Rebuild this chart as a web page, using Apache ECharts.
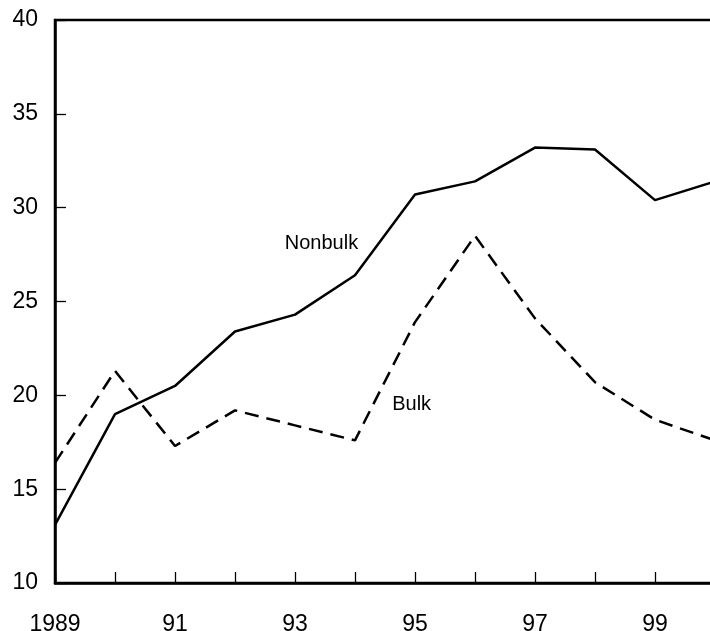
<!DOCTYPE html>
<html>
<head>
<meta charset="utf-8">
<script src="https://cdn.jsdelivr.net/npm/echarts@6/dist/echarts.min.js"></script>
<style>
    html, body { margin: 0; padding: 0; background: #fff; overflow: hidden; }
    #main { width: 710px; height: 631px; }
</style>
</head>
<body>
<div id="main"></div>
<script>
// values
var years = [1989, 1990, 1991, 1992, 1993, 1994, 1995, 1996, 1997, 1998, 1999, 2000];
var nonbulk = [13.1, 19.0, 20.5, 23.4, 24.3, 26.4, 30.7, 31.4, 33.2, 33.1, 30.4, 31.4];
var bulk = [16.4, 21.3, 17.3, 19.2, 18.4, 17.6, 23.9, 28.5, 24.1, 20.7, 18.7, 17.6];
var yTicks = [10, 15, 20, 25, 30, 35, 40];
var labelYears = [1989, 1991, 1993, 1995, 1997, 1999];

var font = 'Liberation Sans, Arial, sans-serif';

function pairs(vals) {
    return years.map(function (y, i) { return [y, vals[i]]; });
}

var myChart = echarts.init(document.getElementById('main'));
var option = {
    animation: false,
    backgroundColor: '#fff',
    grid: {
        left: 55, top: 20, width: 660, height: 563,
        outerBoundsMode: 'none',
        show: true, borderColor: '#000', borderWidth: 2.5
    },
    xAxis: {
        type: 'value',
        min: 1989, max: 2000, interval: 1,
        axisLine: { lineStyle: { color: '#000', width: 2.5 } },
        axisTick: { inside: true, length: 11, lineStyle: { color: '#000', width: 1.3 } },
        splitLine: { show: false },
        axisLabel: {
            margin: 30,
            fontSize: 23, color: '#000', fontFamily: font,
            formatter: function (v) {
                if (labelYears.indexOf(v) < 0) return '';
                return v === 1989 ? '1989' : String(v).slice(2);
            }
        }
    },
    yAxis: {
        type: 'value',
        min: yTicks[0], max: yTicks[yTicks.length - 1], interval: 5,
        axisLine: { show: true, lineStyle: { color: '#000', width: 2.5 } },
        axisTick: { show: true, inside: true, length: 11, lineStyle: { color: '#000', width: 1.3 } },
        splitLine: { show: false },
        axisLabel: { margin: 17, fontSize: 23, color: '#000', fontFamily: font }
    },
    series: [
        {
            name: 'Nonbulk',
            type: 'line',
            data: pairs(nonbulk),
            showSymbol: false,
            lineStyle: { color: '#000', width: 2.5 },
            markPoint: {
                symbolSize: 0,
                data: [{ coord: [1992.83, 28.1] }],
                label: {
                    show: true, formatter: 'Nonbulk', position: 'right', distance: 0,
                    fontSize: 20, color: '#000', fontFamily: font
                }
            }
        },
        {
            name: 'Bulk',
            type: 'line',
            data: pairs(bulk),
            showSymbol: false,
            lineStyle: { color: '#000', width: 2.5, type: [14, 8] },
            markPoint: {
                symbolSize: 0,
                data: [{ coord: [1994.62, 19.5] }],
                label: {
                    show: true, formatter: 'Bulk', position: 'right', distance: 0,
                    fontSize: 20, color: '#000', fontFamily: font
                }
            }
        }
    ]
};
option && myChart.setOption(option);
</script>
</body>
</html>
